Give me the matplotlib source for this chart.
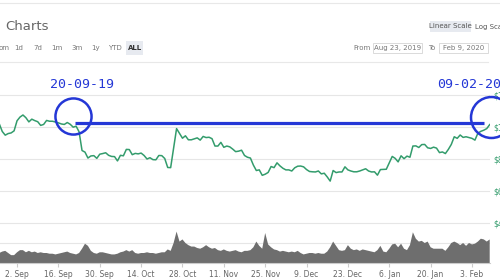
import numpy as np
import pandas as pd
import matplotlib
matplotlib.use("Agg")
import matplotlib.pyplot as plt
from matplotlib.patches import Rectangle

# =========================
# Data (BTC daily price and volume, Aug 23 2019 - Feb 9 2020)
# =========================

price_aug = [10400, 10140, 10140, 10370, 10190, 9720, 9490, 9590, 9630]
price_sep = [9760, 10390, 10620, 10750, 10580, 10320, 10490, 10400, 10330, 10100,
             10160, 10410, 10360, 10360, 10310, 10260, 10190, 10160, 10280, 10170,
             9990, 10050, 9700, 8530, 8430, 8060, 8190, 8210, 8040, 8300]
price_oct = [8340, 8390, 8230, 8160, 8150, 7880, 8230, 8200, 8600, 8590,
             8270, 8350, 8320, 8370, 8220, 8000, 8080, 7960, 7950, 8220,
             8210, 8030, 7470, 7460, 8660, 9900, 9600, 9300, 9450, 9200, 9200]
price_nov = [9260, 9320, 9180, 9410, 9340, 9360, 9270, 8810, 8810, 9040,
             8730, 8810, 8760, 8620, 8460, 8490, 8550, 8220, 8110, 8060,
             7620, 7280, 7320, 6980, 7050, 7160, 7530, 7460, 7760, 7570]
price_dec = [7420, 7320, 7320, 7250, 7450, 7550, 7560, 7510, 7340, 7220,
             7200, 7190, 7250, 7070, 7110, 6880, 6620, 7280, 7150, 7190,
             7190, 7510, 7320, 7250, 7200, 7200, 7250, 7320, 7390, 7250, 7190]
price_jan = [7200, 6990, 7340, 7350, 7360, 7760, 8160, 8040, 7820, 8200,
             8020, 8180, 8110, 8810, 8820, 8720, 8900, 8910, 8700, 8660,
             8740, 8680, 8400, 8440, 8340, 8600, 8910, 9390, 9290, 9500, 9350]
price_feb = [9390, 9340, 9290, 9180, 9610, 9730, 9800, 9900, 10150]

# volume in billions USD
vol_aug = [14, 15, 13, 16, 14, 16, 17, 14, 11]
vol_sep = [11, 15, 18, 18, 15, 17, 15, 16, 14, 15,
           14, 14, 13, 13, 12, 13, 14, 15, 16, 14,
           13, 12, 14, 20, 27, 24, 17, 14, 13, 15]
vol_oct = [15, 14, 13, 12, 12, 13, 15, 16, 18, 16,
           18, 14, 13, 14, 14, 15, 14, 14, 13, 14,
           15, 15, 19, 17, 28, 44, 30, 33, 28, 25, 23]
vol_nov = [23, 21, 20, 22, 25, 22, 20, 21, 18, 17,
           19, 17, 16, 17, 18, 16, 15, 17, 17, 18,
           22, 30, 24, 20, 42, 26, 22, 19, 18, 16]
vol_dec = [17, 16, 15, 16, 15, 17, 14, 12, 13, 14,
           14, 13, 14, 13, 13, 16, 22, 30, 24, 18,
           17, 18, 25, 20, 18, 19, 17, 19, 18, 17, 16]
vol_jan = [15, 18, 24, 16, 15, 20, 26, 27, 22, 27,
           20, 18, 25, 43, 34, 30, 31, 28, 30, 22,
           20, 20, 20, 20, 17, 22, 28, 30, 28, 25, 28]
vol_feb = [24, 28, 26, 27, 30, 34, 33, 30, 33]

prices = price_aug + price_sep + price_oct + price_nov + price_dec + price_jan + price_feb
volumes = vol_aug + vol_sep + vol_oct + vol_nov + vol_dec + vol_jan + vol_feb
dates = pd.date_range("2019-08-23", periods=len(prices), freq="D")

price_ticks = [4000, 6000, 8000, 10000, 12000]
date_ticks = pd.date_range("2019-09-02", "2020-02-03", freq="14D")

range_buttons = ["om", "1d", "7d", "1m", "3m", "1y", "YTD", "ALL"]
button_x = [4, 19, 38, 57, 77, 96, 115, 135]

anno_start = pd.Timestamp("2019-09-20")
anno_end = pd.Timestamp("2020-02-09")
anno_start_label = "20-09-19"
anno_end_label = "09-02-20"

# =========================
# Layout helpers (pixel -> figure fraction)
# =========================

W, H = 500, 280
GREEN = "#339c6c"
BLUE = "#2437d6"
GRID = "#e6e6e6"


def fx(x):
    return x / W


def fy(y):
    return 1 - y / H


fig = plt.figure(figsize=(5, 2.8), dpi=100)

left = fx(-12.5)
width = 502.2 / W
bottom = fy(263)

# volume axes (below, own scale)
vax = fig.add_axes([left, bottom, width, 40 / H])
vax.fill_between(dates, volumes, 0, color="#6e6e6e", lw=0)
vax.set_ylim(0, 56)
vax.set_yticks([28])
vax.grid(axis="y", color=GRID, lw=0.8)
vax.set_axisbelow(True)
vax.tick_params(left=False, labelleft=False, bottom=False, labelbottom=False)
for s in vax.spines.values():
    s.set_visible(False)
vax.patch.set_alpha(0)

# price axes
ax = fig.add_axes([left, bottom, width, 203 / H], sharex=vax)
ax.patch.set_alpha(0)
ax.plot(dates, prices, color=GREEN, lw=1.1)
ax.set_ylim(1500, 14187.5)
ax.set_xlim(pd.Timestamp("2019-08-23"), pd.Timestamp("2020-02-09"))
ax.set_yticks(price_ticks)
ax.set_yticklabels([f"${p:,}" for p in price_ticks])
ax.yaxis.tick_right()
ax.tick_params(axis="y", length=0, pad=2.5, labelsize=5.5, labelcolor=GREEN)
ax.grid(axis="y", color=GRID, lw=0.8)
ax.set_xticks(date_ticks)
ax.set_xticklabels([f"{d.day}. {d.strftime('%b')}" for d in date_ticks])
ax.tick_params(axis="x", length=3, color="#cccccc", labelsize=5.5,
               labelcolor="#666666", pad=2)
for name, s in ax.spines.items():
    s.set_visible(name == "bottom")
ax.spines["bottom"].set_color("#cccccc")
ax.spines["bottom"].set_linewidth(0.8)

# =========================
# Hand-drawn annotation
# =========================

level = prices[list(dates).index(anno_start)]
ax.plot([anno_start + pd.Timedelta(days=1.6), anno_end - pd.Timedelta(days=1.8)],
        [level + 60, level + 60], color=BLUE, lw=2.3, solid_capstyle="butt")
ax.plot([anno_start + pd.Timedelta(days=1)], [level + 520], "o", mfc="none",
        mec=BLUE, mew=1.8, ms=26, clip_on=False)
ax.plot([anno_end + pd.Timedelta(days=0.4)], [level + 460], "o", mfc="none",
        mec=BLUE, mew=1.8, ms=29.5, clip_on=False)
fig.text(fx(50), fy(85), anno_start_label, color=BLUE, fontsize=9.5,
         family="DejaVu Sans Mono", va="center", ha="left")
fig.text(fx(437), fy(85), anno_end_label, color=BLUE, fontsize=9.5,
         family="DejaVu Sans Mono", va="center", ha="left")

# =========================
# Page header
# =========================

fig.add_artist(plt.Line2D([0, 1], [fy(3), fy(3)], color="#e8e8e8", lw=0.8))
fig.add_artist(plt.Line2D([0, fx(488)], [fy(62), fy(62)], color="#e8e8e8", lw=0.8))

fig.text(fx(5), fy(26), "Charts", fontsize=9.5, color="#666666", va="center", ha="left")

fig.add_artist(Rectangle((fx(126), fy(55)), 17 / W, 14 / H, transform=fig.transFigure,
                         fc="#e7eaf0", ec="none"))
for lab, bx in zip(range_buttons, button_x):
    fig.text(fx(bx), fy(48), lab, fontsize=5, va="center", ha="center",
             color="#333333" if lab == "ALL" else "#777777",
             fontweight="bold" if lab == "ALL" else "normal")

fig.add_artist(Rectangle((fx(430), fy(32)), 41 / W, 11 / H, transform=fig.transFigure,
                         fc="#e7eaf0", ec="none"))
fig.text(fx(450.5), fy(26.5), "Linear Scale", fontsize=5, color="#555555",
         va="center", ha="center")
fig.text(fx(475), fy(26.5), "Log Scale", fontsize=5, color="#555555",
         va="center", ha="left")

fig.text(fx(361.5), fy(48), "From", fontsize=5, color="#777777", va="center", ha="center")
fig.add_artist(Rectangle((fx(373), fy(53)), 49 / W, 10 / H, transform=fig.transFigure,
                         fc="white", ec="#d5d5d5", lw=0.6))
fig.text(fx(397.5), fy(48), "Aug 23, 2019", fontsize=5, color="#777777",
         va="center", ha="center")
fig.text(fx(431.5), fy(48), "To", fontsize=5, color="#777777", va="center", ha="center")
fig.add_artist(Rectangle((fx(439), fy(53)), 49 / W, 10 / H, transform=fig.transFigure,
                         fc="white", ec="#d5d5d5", lw=0.6))
fig.text(fx(463.5), fy(48), "Feb 9, 2020", fontsize=5, color="#777777",
         va="center", ha="center")

fig.savefig("out.png", dpi=100)
